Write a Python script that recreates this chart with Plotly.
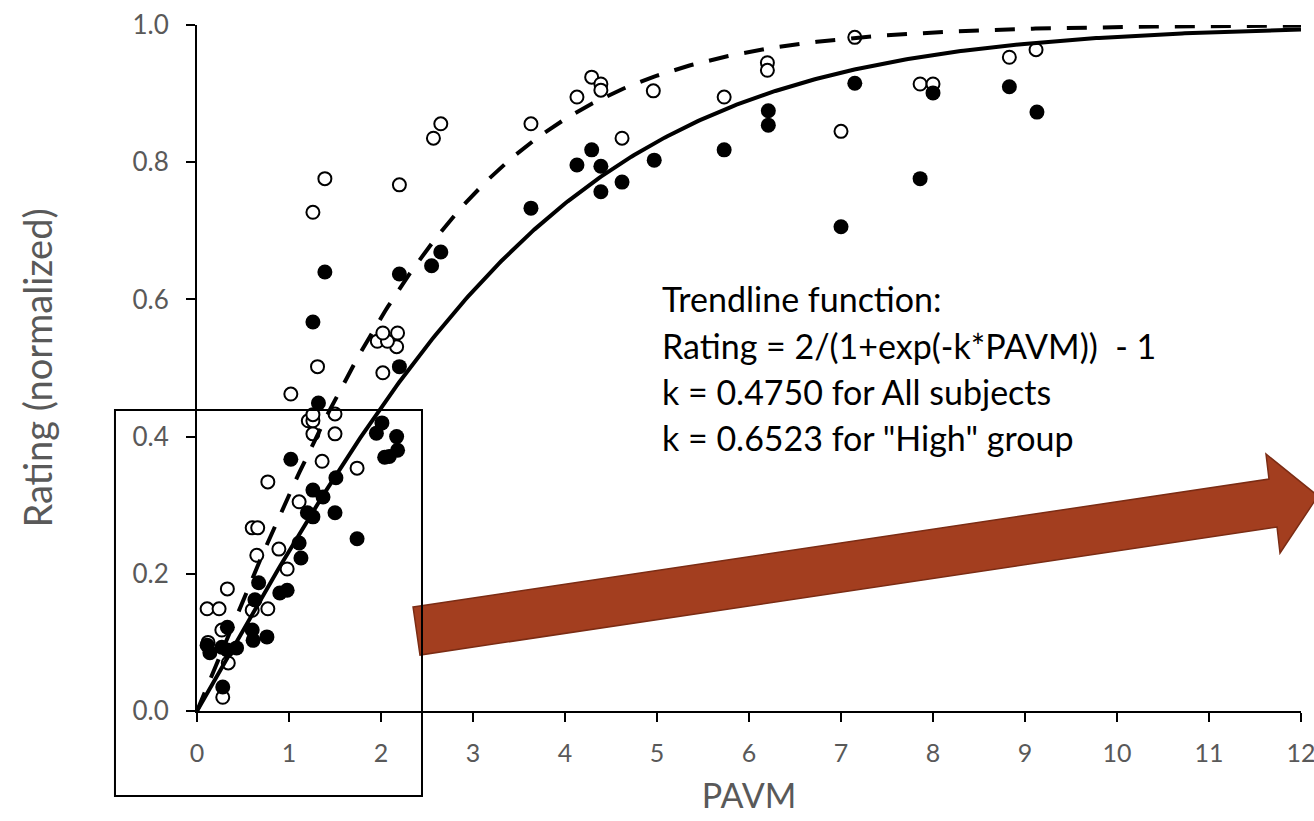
import numpy as np
import plotly.graph_objects as go

# ---------------- data ----------------
open_x = [0.11, 0.24, 0.33, 0.27, 0.12, 0.34, 0.28, 0.60, 0.77, 0.60, 0.66, 0.65, 0.89,
          0.98, 0.77, 1.11, 1.36, 1.74, 1.26, 1.50, 1.21, 1.26, 1.26, 1.50, 1.02, 1.31,
          2.02, 2.17, 1.96, 2.07, 2.02, 2.18, 1.26, 2.20, 1.39, 2.57, 2.65, 3.63, 4.13,
          4.29, 4.39, 4.39, 4.96, 4.62, 5.73, 6.20, 6.20, 7.15, 7.00, 7.86, 8.00, 8.83, 9.12]
open_y = [0.149, 0.149, 0.178, 0.118, 0.100, 0.070, 0.020, 0.147, 0.149, 0.267, 0.267, 0.227, 0.236,
          0.207, 0.334, 0.305, 0.364, 0.354, 0.404, 0.404, 0.423, 0.423, 0.432, 0.433, 0.462, 0.502,
          0.493, 0.531, 0.539, 0.539, 0.551, 0.551, 0.727, 0.767, 0.776, 0.835, 0.856, 0.856, 0.895,
          0.924, 0.914, 0.905, 0.904, 0.835, 0.895, 0.945, 0.934, 0.982, 0.845, 0.914, 0.914, 0.953, 0.964]

filled_x = [1.32, 2.01, 1.95, 2.17, 2.18, 2.04, 2.09, 1.02, 1.51, 1.26, 1.37, 1.20, 1.26,
            1.50, 1.74, 1.11, 1.13, 0.67, 0.90, 0.98, 0.63, 0.60, 0.76, 0.61, 0.33, 0.11,
            0.14, 0.27, 0.33, 0.43, 0.28, 1.39, 2.20, 1.26, 2.65, 2.55, 2.20, 3.63, 4.13,
            4.29, 4.39, 4.39, 4.62, 4.97, 5.73, 6.21, 6.21, 7.15, 7.00, 8.00, 7.86, 8.83, 9.13]
filled_y = [0.449, 0.420, 0.405, 0.400, 0.380, 0.370, 0.371, 0.367, 0.340, 0.322, 0.312, 0.289, 0.283,
            0.289, 0.251, 0.245, 0.223, 0.187, 0.172, 0.176, 0.162, 0.118, 0.108, 0.103, 0.122, 0.096,
            0.085, 0.093, 0.089, 0.092, 0.035, 0.640, 0.637, 0.567, 0.669, 0.649, 0.502, 0.733, 0.796,
            0.818, 0.794, 0.757, 0.771, 0.803, 0.818, 0.875, 0.854, 0.915, 0.706, 0.901, 0.776, 0.910, 0.873]

k_all = 0.4750
k_high = 0.6523
x_ticks = list(range(0, 13))
y_ticks = [0.0, 0.2, 0.4, 0.6, 0.8, 1.0]

text_lines = [
    "Trendline function:",
    "Rating = 2/(1+exp(-k*PAVM))  - 1",
    "k = 0.4750 for All subjects",
    "k = 0.6523 for \"High\" group",
]

# trendlines from stated function
xs = np.linspace(0, 12, 400)
y_all = 2 / (1 + np.exp(-k_all * xs)) - 1
y_high = 2 / (1 + np.exp(-k_high * xs)) - 1

FONT = "Lato"
GRAY = "#595959"

fig = go.Figure()
fig.add_trace(go.Scatter(x=open_x, y=open_y, mode="markers", name="High",
                         marker=dict(symbol="circle", size=13, color="white",
                                     line=dict(color="black", width=2)),
                         showlegend=False, cliponaxis=False))
fig.add_trace(go.Scatter(x=filled_x, y=filled_y, mode="markers", name="All",
                         marker=dict(symbol="circle", size=15, color="black",
                                     line=dict(width=0)),
                         showlegend=False, cliponaxis=False))
fig.add_trace(go.Scatter(x=xs, y=y_high, mode="lines", name="k high",
                         line=dict(color="black", width=4, dash="20px,16px"),
                         showlegend=False))
fig.add_trace(go.Scatter(x=xs, y=y_all, mode="lines", name="k all",
                         line=dict(color="black", width=4),
                         showlegend=False))

# block arrow (paper coordinates)
arrow_pts = [(0.1957, 0.1516), (0.9710, 0.3382), (0.9683, 0.3746), (1.0154, 0.3134),
             (0.9810, 0.2303), (0.9783, 0.2682), (0.2020, 0.0816)]
path = "M " + " L ".join(f"{px},{py}" for px, py in arrow_pts) + " Z"
fig.add_shape(type="path", xref="paper", yref="paper", path=path,
              fillcolor="#A33E1F", line=dict(color="#7B2C14", width=1.5), layer="above")

# zoom rectangle
fig.add_shape(type="rect", xref="paper", yref="paper",
              x0=-0.0743, x1=0.2038, y0=-0.1239, y1=0.4388,
              line=dict(color="black", width=2), fillcolor="rgba(0,0,0,0)", layer="above")

line_y = [0.602, 0.533, 0.466, 0.399]
for t, yy in zip(text_lines, line_y):
    fig.add_annotation(x=0.4194, y=yy, xref="paper", yref="paper", text=t,
                       showarrow=False, xanchor="left", yanchor="middle",
                       font=dict(family=FONT, size=34, color="black"))

fig.update_layout(
    width=1314, height=821,
    margin=dict(l=197, r=13, t=25, b=110),
    paper_bgcolor="white", plot_bgcolor="white",
    template="none",
    font=dict(family=FONT, color=GRAY),
    xaxis=dict(range=[0, 12], tickvals=x_ticks, ticktext=[str(v) for v in x_ticks],
               showgrid=False, zeroline=False, showline=True, linecolor="black", linewidth=2,
               ticks="outside", ticklen=9, tickwidth=1.5, tickcolor="black",
               tickfont=dict(family=FONT, size=25, color=GRAY),
               ticklabelstandoff=10, ticklabeloverflow="allow",
               title=dict(text="PAVM", font=dict(family=FONT, size=34, color=GRAY), standoff=18),
               automargin=False),
    yaxis=dict(range=[0, 1], tickvals=y_ticks, ticktext=[f"{v:.1f}" for v in y_ticks],
               showgrid=False, zeroline=False, showline=True, linecolor="black", linewidth=2,
               ticks="outside", ticklen=9, tickwidth=1.5, tickcolor="black",
               tickfont=dict(family=FONT, size=26, color=GRAY),
               ticklabelstandoff=12,
               title=dict(text="Rating (normalized)", font=dict(family=FONT, size=38, color=GRAY),
                          standoff=68),
               automargin=False),
)

fig.write_html("out.html")
